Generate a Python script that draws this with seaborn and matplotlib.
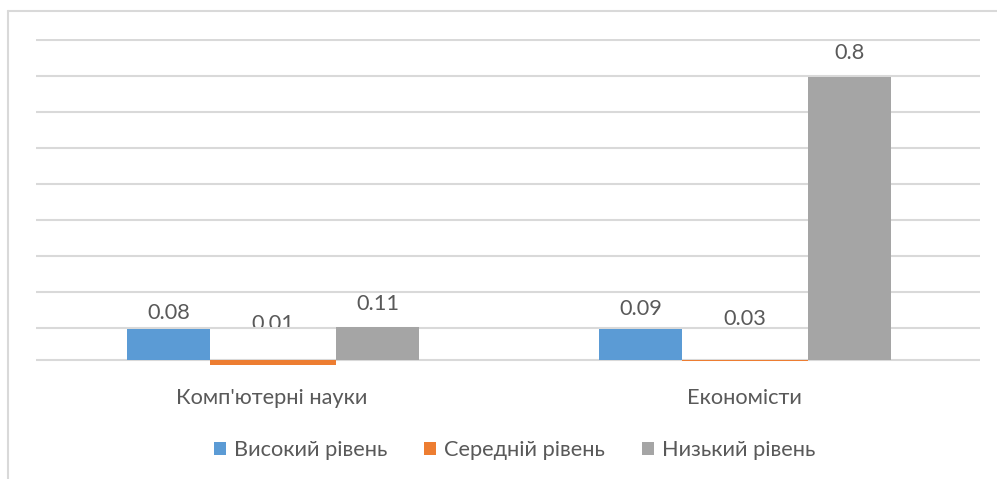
import numpy as np
import pandas as pd
import matplotlib
matplotlib.use("Agg")
import matplotlib.pyplot as plt
import matplotlib.transforms as mtransforms
from matplotlib.lines import Line2D
from matplotlib.patches import Patch
import seaborn as sns

# ---- data ----
categories = ["Комп'ютерні науки", "Економісти"]
levels = ["Високий рівень", "Середній рівень", "Низький рівень"]
high_vals = [0.086, 0.086]
mid_vals = [-0.014, -0.003]
low_vals = [0.092, 0.7875]
high_labels = ["0.08", "0.09"]
mid_labels = ["0.01", "0.03"]
low_labels = ["0.11", "0.8"]

# ---- styles ----
colors = ["#5B9BD5", "#ED7D31", "#A5A5A5"]
grid_color = "#D9D9D9"
text_color = "#595959"
fs = 15.7
label_offsets_px = [[10, 14], [30, 35], [17, 17.5]]
label_clipped = [[False, False], [True, False], [False, False]]
bar_edges = [-0.307, -0.132, 0.1356, 0.311]

df = pd.DataFrame({
    "cat": categories * 3,
    "level": [levels[0]] * 2 + [levels[1]] * 2 + [levels[2]] * 2,
    "val": high_vals + mid_vals + low_vals,
})
all_labels = [high_labels, mid_labels, low_labels]
all_vals = [high_vals, mid_vals, low_vals]

sns.set_theme(style="white")
plt.rcParams["font.family"] = ["Lato", "DejaVu Sans"]

W, H = 997, 479
fig = plt.figure(figsize=(W / 100, H / 100), dpi=100)

px_per_unit = 360.0
zero_px = 360.0
grid0 = 32 / px_per_unit
grid_ticks = [grid0 + 0.1 * k for k in range(9)]
y_top = grid_ticks[-1] + 1.5 / px_per_unit
y_bot = -0.02
top_px = zero_px - y_top * px_per_unit
bot_px = zero_px - y_bot * px_per_unit
left_px, right_px = 36, 980
ax = fig.add_axes([left_px / W, 1 - bot_px / H, (right_px - left_px) / W, (bot_px - top_px) / H])

sns.barplot(data=df, x="cat", y="val", hue="level", order=categories, hue_order=levels,
            palette=colors, saturation=1, width=0.62, dodge=True, legend=False,
            errorbar=None, ax=ax, zorder=3)

for i, cont in enumerate(ax.containers):
    for j, bar in enumerate(cont):
        bar.set_x(j + bar_edges[i])
        bar.set_width(bar_edges[i + 1] - bar_edges[i])
        bar.set_linewidth(0)

ax.set_xlim(-0.5, 1.5)
ax.set_ylim(y_bot, y_top)
ax.set_yticks(grid_ticks)
ax.set_yticklabels([])
ax.grid(axis="y", color=grid_color, lw=1.5, zorder=0)
ax.grid(axis="x", visible=False)
ax.axhline(0, color=grid_color, lw=1.5, zorder=1)
for s in ax.spines.values():
    s.set_visible(False)
ax.tick_params(axis="both", length=0)
ax.tick_params(axis="x", pad=15, labelsize=fs, labelcolor=text_color)
ax.set_xlabel("")
ax.set_ylabel("")

# data labels
for i in range(3):
    for j in range(2):
        v = all_vals[i][j]
        xc = j + (bar_edges[i] + bar_edges[i + 1]) / 2
        tr = mtransforms.offset_copy(ax.transData, fig=fig, y=label_offsets_px[i][j] * 0.72, units="points")
        t = ax.text(xc, max(v, 0), all_labels[i][j], transform=tr, ha="center", va="baseline",
                    fontsize=fs, color=text_color, zorder=4)
        if label_clipped[i][j]:
            bb = mtransforms.TransformedBbox(
                mtransforms.Bbox.from_extents(-0.5, grid0 + 1.0 / px_per_unit, 1.5, y_top + 1),
                ax.transData)
            t.set_clip_box(bb)
            t.set_clip_on(True)

# legend
handles = [Patch(facecolor=c, edgecolor="none") for c in colors]
fig.legend(handles, levels, loc="center", bbox_to_anchor=(514.5 / W, 1 - 450 / H),
           ncol=3, frameon=False, fontsize=fs, labelcolor=text_color,
           handlelength=0.56, handleheight=0.56, handletextpad=0.35, columnspacing=1.7,
           borderaxespad=0, borderpad=0)

# outer chart frame
fig.add_artist(Line2D([7.5 / W, 7.5 / W], [0, 1 - 10.5 / H], transform=fig.transFigure,
                      color=grid_color, lw=1.5))
fig.add_artist(Line2D([7.5 / W, 1], [1 - 10.5 / H, 1 - 10.5 / H], transform=fig.transFigure,
                      color=grid_color, lw=1.5))

fig.savefig("out.png", dpi=100, facecolor="white")
